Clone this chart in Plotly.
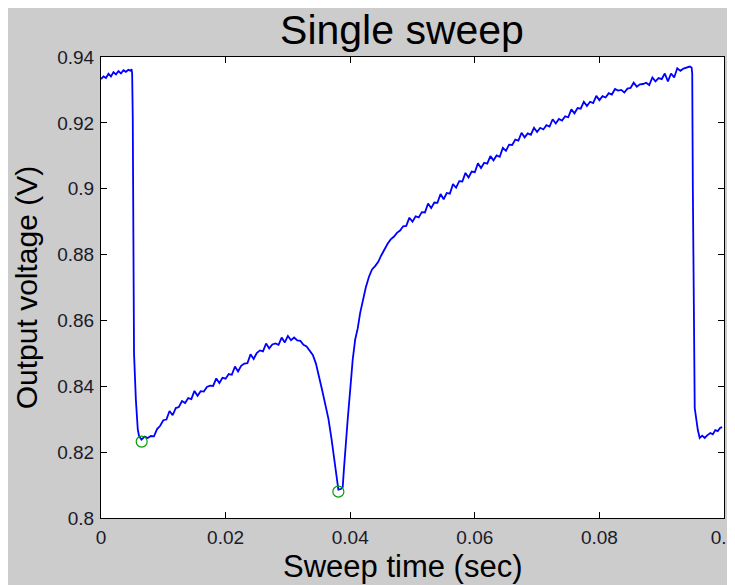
import plotly.graph_objects as go

# Sweep data (time in s, output voltage in V)
time_s = [
    0.0000, 0.0004, 0.0008, 0.0012, 0.0016, 0.0020, 0.0024, 0.0028, 0.0032, 0.0036,
    0.0040, 0.0044, 0.0048, 0.0049, 0.0050, 0.0051, 0.0052, 0.0053, 0.0056, 0.0059,
    0.0061, 0.0063, 0.0065, 0.0070, 0.0075, 0.0080, 0.0085, 0.0090, 0.0095, 0.0100,
    0.0105, 0.0110, 0.0115, 0.0120, 0.0125, 0.0130, 0.0135, 0.0140, 0.0145, 0.0150,
    0.0155, 0.0160, 0.0165, 0.0170, 0.0175, 0.0180, 0.0185, 0.0190, 0.0195, 0.0200,
    0.0205, 0.0210, 0.0215, 0.0220, 0.0225, 0.0230, 0.0235, 0.0240, 0.0245, 0.0250,
    0.0255, 0.0260, 0.0265, 0.0270, 0.0275, 0.0280, 0.0285, 0.0290, 0.0295, 0.0300,
    0.0305, 0.0310, 0.0315, 0.0320, 0.0325, 0.0330, 0.0335, 0.0340, 0.0345, 0.0350,
    0.0355, 0.0360, 0.0365, 0.0370, 0.0375, 0.0378, 0.0381, 0.0385, 0.0388, 0.0390,
    0.0392, 0.0396, 0.0400, 0.0404, 0.0408, 0.0412, 0.0416, 0.0420, 0.0425, 0.0430,
    0.0435, 0.0440, 0.0445, 0.0450, 0.0455, 0.0460, 0.0465, 0.0470, 0.0475, 0.0480,
    0.0485, 0.0490, 0.0495, 0.0500, 0.0505, 0.0510, 0.0515, 0.0520, 0.0525, 0.0530,
    0.0535, 0.0540, 0.0545, 0.0550, 0.0555, 0.0560, 0.0565, 0.0570, 0.0575, 0.0580,
    0.0585, 0.0590, 0.0595, 0.0600, 0.0605, 0.0610, 0.0615, 0.0620, 0.0625, 0.0630,
    0.0635, 0.0640, 0.0645, 0.0650, 0.0655, 0.0660, 0.0665, 0.0670, 0.0675, 0.0680,
    0.0685, 0.0690, 0.0695, 0.0700, 0.0705, 0.0710, 0.0715, 0.0720, 0.0725, 0.0730,
    0.0735, 0.0740, 0.0745, 0.0750, 0.0755, 0.0760, 0.0765, 0.0770, 0.0775, 0.0780,
    0.0785, 0.0790, 0.0795, 0.0800, 0.0805, 0.0810, 0.0815, 0.0820, 0.0825, 0.0830,
    0.0835, 0.0840, 0.0845, 0.0850, 0.0855, 0.0860, 0.0865, 0.0870, 0.0875, 0.0880,
    0.0885, 0.0890, 0.0895, 0.0900, 0.0905, 0.0910, 0.0915, 0.0920, 0.0925, 0.0930,
    0.0935, 0.0940, 0.0945, 0.0948, 0.0949, 0.0950, 0.0952, 0.0953, 0.0958, 0.0961,
    0.0965, 0.0969, 0.0973, 0.0978, 0.0982, 0.0986, 0.0990, 0.0994, 0.0997,
]
voltage_v = [
    0.9333, 0.9341, 0.9336, 0.9349, 0.9341, 0.9354, 0.9347, 0.9357, 0.9350, 0.9360,
    0.9355, 0.9361, 0.9358, 0.9363, 0.9350, 0.9215, 0.8850, 0.8500, 0.8358, 0.8270,
    0.8249, 0.8245, 0.8238, 0.8247, 0.8243, 0.8249, 0.8248, 0.8270, 0.8280, 0.8297,
    0.8299, 0.8325, 0.8312, 0.8334, 0.8337, 0.8355, 0.8349, 0.8364, 0.8361, 0.8386,
    0.8371, 0.8385, 0.8384, 0.8398, 0.8402, 0.8401, 0.8424, 0.8410, 0.8426, 0.8423,
    0.8437, 0.8435, 0.8460, 0.8445, 0.8462, 0.8469, 0.8470, 0.8497, 0.8483, 0.8501,
    0.8509, 0.8506, 0.8530, 0.8515, 0.8527, 0.8530, 0.8526, 0.8548, 0.8533, 0.8553,
    0.8540, 0.8548, 0.8539, 0.8538, 0.8526, 0.8521, 0.8506, 0.8495, 0.8469, 0.8433,
    0.8388, 0.8345, 0.8302, 0.8240, 0.8170, 0.8140, 0.8086, 0.8088, 0.8094, 0.8150,
    0.8206, 0.8300, 0.8389, 0.8480, 0.8542, 0.8575, 0.8623, 0.8660, 0.8700, 0.8732,
    0.8755, 0.8765, 0.8778, 0.8798, 0.8817, 0.8833, 0.8846, 0.8854, 0.8866, 0.8873,
    0.8886, 0.8887, 0.8912, 0.8900, 0.8916, 0.8913, 0.8929, 0.8928, 0.8955, 0.8941,
    0.8958, 0.8957, 0.8984, 0.8968, 0.8987, 0.8985, 0.9014, 0.9003, 0.9023, 0.9022,
    0.9048, 0.9034, 0.9052, 0.9050, 0.9077, 0.9063, 0.9079, 0.9076, 0.9099, 0.9086,
    0.9101, 0.9097, 0.9124, 0.9115, 0.9134, 0.9133, 0.9149, 0.9146, 0.9170, 0.9156,
    0.9168, 0.9164, 0.9185, 0.9172, 0.9185, 0.9180, 0.9193, 0.9189, 0.9211, 0.9198,
    0.9212, 0.9207, 0.9220, 0.9217, 0.9241, 0.9229, 0.9245, 0.9243, 0.9264, 0.9251,
    0.9264, 0.9260, 0.9282, 0.9269, 0.9281, 0.9277, 0.9290, 0.9286, 0.9303, 0.9298,
    0.9300, 0.9292, 0.9304, 0.9306, 0.9322, 0.9310, 0.9317, 0.9318, 0.9322, 0.9315,
    0.9338, 0.9326, 0.9336, 0.9333, 0.9350, 0.9326, 0.9350, 0.9338, 0.9366, 0.9358,
    0.9365, 0.9368, 0.9371, 0.9368, 0.9350, 0.9000, 0.8450, 0.8334, 0.8267, 0.8243,
    0.8250, 0.8243, 0.8251, 0.8258, 0.8254, 0.8267, 0.8264, 0.8274, 0.8276,
]

# Detected minima (green circles)
min_time_s = [0.00653, 0.0381]
min_voltage_v = [0.8232, 0.8080]

x_ticks = [0, 0.02, 0.04, 0.06, 0.08, 0.1]
x_tick_labels = ["0", "0.02", "0.04", "0.06", "0.08", "0.1"]
y_ticks = [0.8, 0.82, 0.84, 0.86, 0.88, 0.9, 0.92, 0.94]
y_tick_labels = ["0.8", "0.82", "0.84", "0.86", "0.88", "0.9", "0.92", "0.94"]

W, H = 727, 577
L, T = 93, 49
pw, ph = 623, 461
R, B = W - L - pw, H - T - ph

fig = go.Figure()
fig.add_trace(go.Scatter(
    x=time_s, y=voltage_v, mode="lines",
    line=dict(color="#0000ff", width=1.8),
    showlegend=False, hoverinfo="skip",
))
fig.add_trace(go.Scatter(
    x=min_time_s, y=min_voltage_v, mode="markers",
    marker=dict(symbol="circle-open", size=11, color="#00a000",
                line=dict(width=1.2, color="#00a000")),
    showlegend=False, hoverinfo="skip", cliponaxis=False,
))

font_family = "Liberation Sans, Arial, sans-serif"
axis_common = dict(
    showline=True, linecolor="black", linewidth=1, mirror="ticks",
    ticks="inside", ticklen=6, tickcolor="black", tickwidth=1,
    showgrid=False, zeroline=False, automargin=False,
    ticklabeloverflow="allow", ticklabelstandoff=2,
    tickfont=dict(family=font_family, size=19, color="#1a1a2a"),
)

title_center_x = 394  # figure pixels

fig.update_layout(
    width=W, height=H,
    margin=dict(l=L, r=R, t=T, b=B, pad=0),
    paper_bgcolor="#cccccc", plot_bgcolor="white",
    title=dict(text="Single sweep", x=title_center_x / W, xanchor="center",
               y=1 - 22 / H, yanchor="middle",
               font=dict(family=font_family, size=41, color="black")),
    xaxis=dict(range=[0, 0.1], tickvals=x_ticks, ticktext=x_tick_labels,
               **axis_common),
    yaxis=dict(range=[0.8, 0.94], tickvals=y_ticks, ticktext=y_tick_labels,
               title=dict(text="Output voltage (V)", standoff=10,
                          font=dict(family=font_family, size=30, color="black")),
               **axis_common),
    annotations=[
        dict(text="Sweep time (sec)", xref="paper", yref="paper",
             x=(title_center_x - L) / pw, y=-48 / ph,
             xanchor="center", yanchor="middle", showarrow=False,
             font=dict(family=font_family, size=31, color="black")),
    ],
)

fig.write_html("out.html")
